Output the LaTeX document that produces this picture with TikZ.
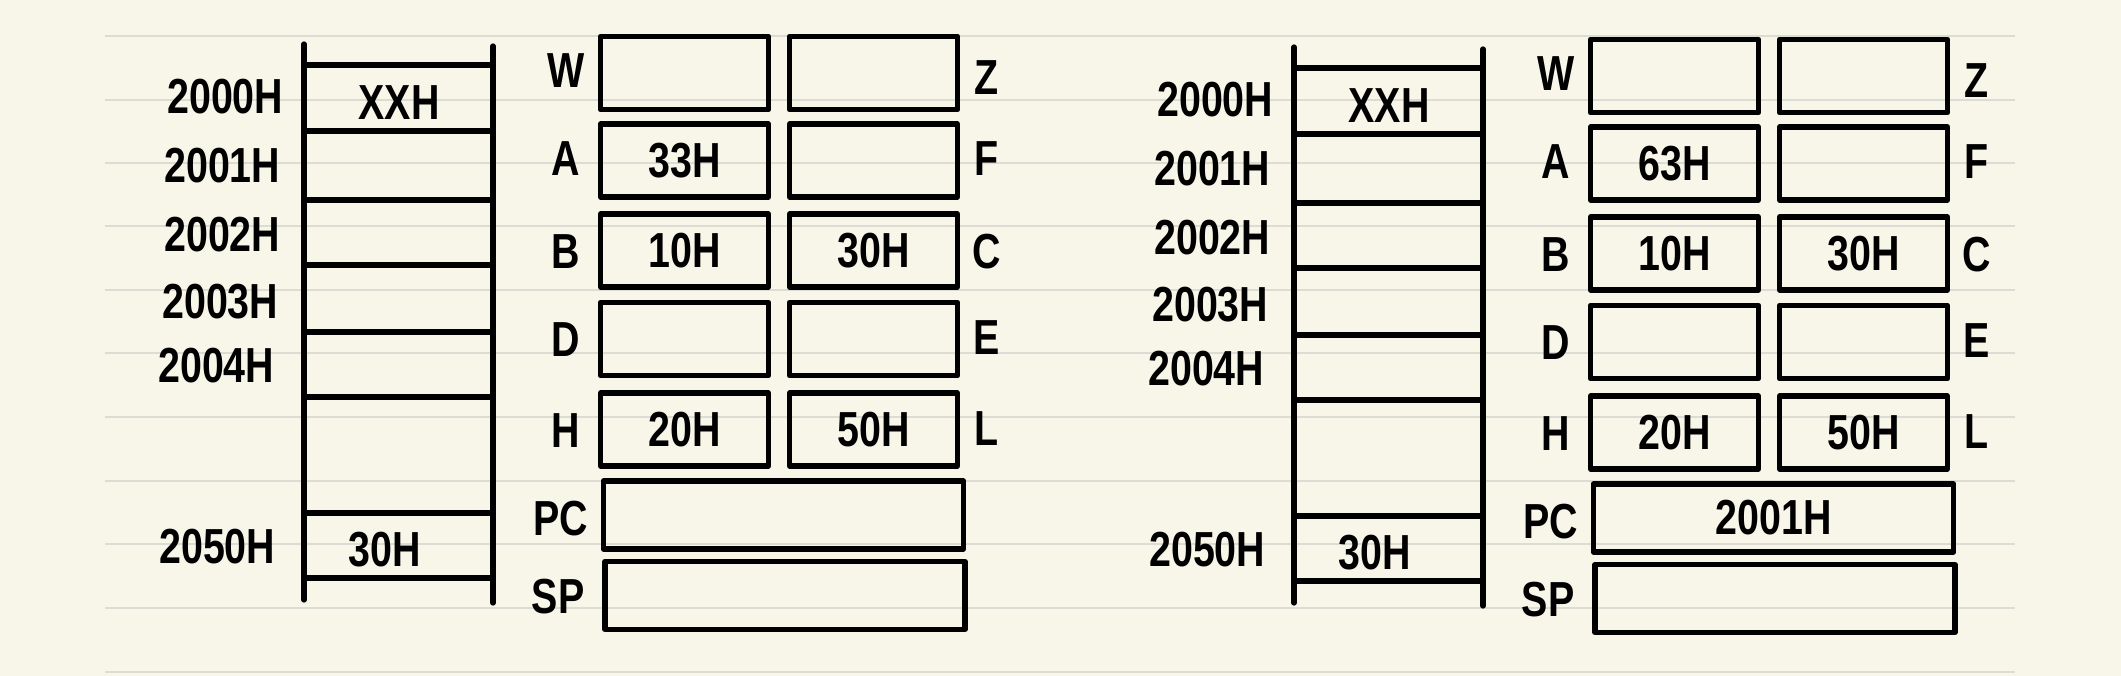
\documentclass[tikz,border=0pt]{standalone}
\usepackage{fontspec}
\setmainfont{Liberation Sans}[FakeStretch=0.8]
\definecolor{paper}{HTML}{F8F6E9}
\definecolor{ruling}{HTML}{DCDCD4}
\tikzset{
  hand/.style={font=\fontsize{14}{16}\selectfont\bfseries},
  reg/.style={draw, line width=1.5pt, line join=round, minimum width=1.68cm, minimum height=0.73cm, inner sep=0pt, hand},
  wide/.style={reg, minimum width=3.6cm, minimum height=0.68cm},
  lbl/.style={hand, inner sep=0pt},
  addr/.style={hand, inner sep=0pt, anchor=east},
  mem/.style={line width=1.5pt, line cap=round},
}
\begin{document}
\begin{tikzpicture}[x=0.01cm, y=-0.01cm]
  % paper
  \fill[paper] (0,0) rectangle (2121,676);
  \useasboundingbox (0,0) rectangle (2121,676);
  \foreach \ry in {36,100,163,226,290,353,417,481,544,608,672}
    \draw[ruling, line width=0.7pt] (105,\ry) -- (2015,\ry);

  % two snapshots: before and after
  \foreach \sx/\sy/\p/\va/\vpc in {0/0/L/33H/{}, 990/3/R/63H/2001H}{
  \begin{scope}[shift={(\sx,\sy)}, name prefix=\p-]
    % memory
    \draw[mem] (304,44) -- (304,600);
    \draw[mem] (493,46) -- (493,603);
    \foreach \my in {65,131,200,265,332,397,513,578}
      \draw[mem] (304,\my) -- (493,\my);
    \node[addr] (m0) at (284,97) {2000H};
    \node[addr] (m1) at (281,166) {2001H};
    \node[addr] (m2) at (281,235) {2002H};
    \node[addr] (m3) at (279,302) {2003H};
    \node[addr] (m4) at (275,366) {2004H};
    \node[addr] (m50) at (276,547) {2050H};
    \node[lbl] (c0) at (399,103) {XXH};
    \node[lbl] (c50) at (385,550) {30H};

    % registers
    \node[reg] (W) at (684.5,73) {};
    \node[reg] (Z) at (873.5,73) {};
    \node[reg] (A) at (684.5,160.5) {\va};
    \node[reg] (F) at (873.5,160.5) {};
    \node[reg] (B) at (684.5,250.5) {10H};
    \node[reg] (C) at (873.5,250.5) {30H};
    \node[reg] (D) at (684.5,339) {};
    \node[reg] (E) at (873.5,339) {};
    \node[reg] (H) at (684.5,429.5) {20H};
    \node[reg] (L) at (873.5,429.5) {50H};
    \node[wide] (PC) at (783.5,515) {\vpc};
    \node[wide] (SP) at (785,595.5) {};

    % register names
    \node[lbl] (nW) at (566,71) {W};
    \node[lbl] (nA) at (566,159) {A};
    \node[lbl] (nB) at (566,252) {B};
    \node[lbl] (nD) at (566,340) {D};
    \node[lbl] (nH) at (566,431) {H};
    \node[lbl] (nPC) at (561,519) {PC};
    \node[lbl] (nSP) at (558,597) {SP};
    \node[lbl] (nZ) at (987,78) {Z};
    \node[lbl] (nF) at (987,159) {F};
    \node[lbl] (nC) at (987,252) {C};
    \node[lbl] (nE) at (987,338) {E};
    \node[lbl] (nL) at (987,429) {L};
  \end{scope}}
\end{tikzpicture}
\end{document}
